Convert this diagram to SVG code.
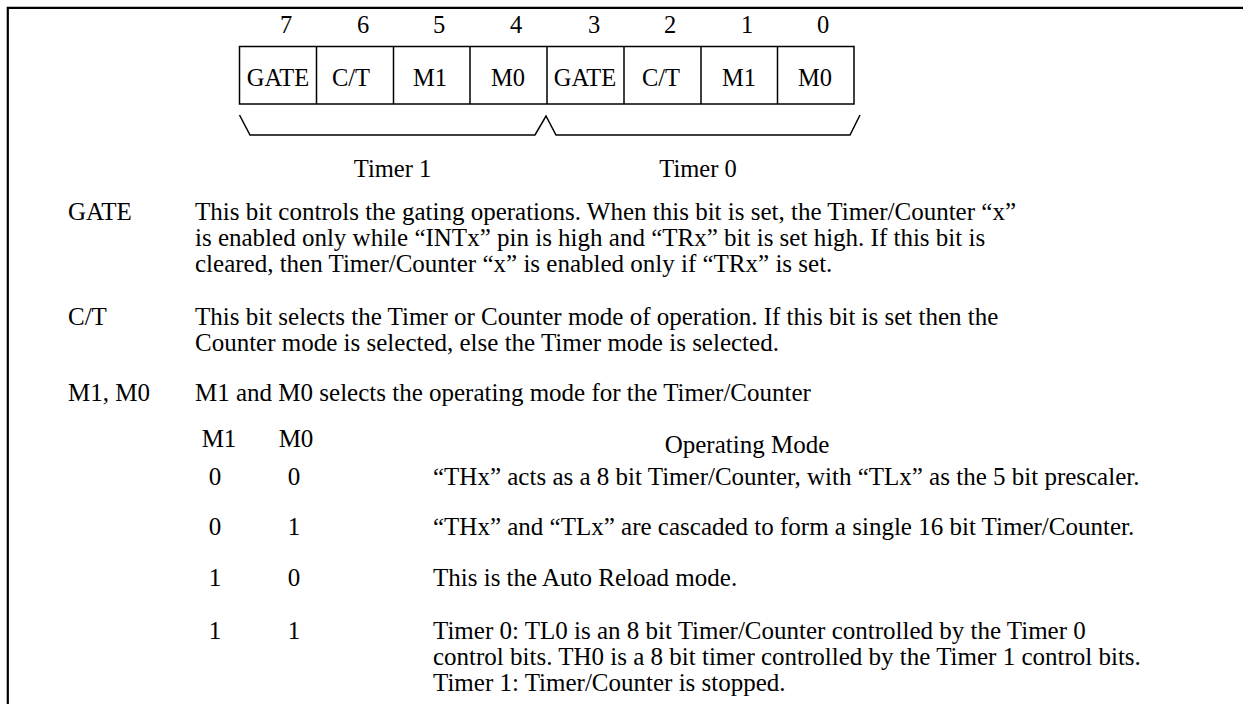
<svg xmlns="http://www.w3.org/2000/svg" width="1243" height="704" viewBox="0 0 1243 704">
<style>
text{font-family:"Liberation Serif","Times New Roman",serif;font-size:25px;fill:#000}
.c{text-anchor:middle}
.r{font-size:24.5px}
.ln{stroke:#000;fill:none}
</style>
<rect x="0" y="0" width="1243" height="704" fill="#fff"/>
<g id="frame"><path class="ln" stroke-width="2.2" d="M7.8,704 V7.8 H1243"/></g>
<g id="bitnums">
<text class="c r" x="286" y="33">7</text><text class="c r" x="363" y="33">6</text><text class="c r" x="439" y="33">5</text><text class="c r" x="516" y="33">4</text>
<text class="c r" x="594" y="33">3</text><text class="c r" x="670" y="33">2</text><text class="c r" x="747" y="33">1</text><text class="c r" x="823" y="33">0</text>
</g>
<g id="register">
<rect class="ln" stroke-width="1.5" x="239.5" y="46.5" width="614.5" height="57.5"/>
<path class="ln" stroke-width="1.5" d="M316.5,46.5V104M393.5,46.5V104M470,46.5V104M547,46.5V104M624,46.5V104M701,46.5V104M777.5,46.5V104"/>
<text class="c r" x="278" y="86">GATE</text><text class="c r" x="351" y="86">C/T</text><text class="c r" x="430" y="86">M1</text><text class="c r" x="508" y="86">M0</text>
<text class="c r" x="585" y="86">GATE</text><text class="c r" x="661" y="86">C/T</text><text class="c r" x="739" y="86">M1</text><text class="c r" x="815" y="86">M0</text>
</g>
<g id="connectors">
<path class="ln" stroke-width="1.5" d="M239.5,115 L250,135 H535 L546,116 L556,135 H850 L860,115"/>
</g>
<g id="timer1"><text class="c r" x="392.5" y="177">Timer 1</text></g>
<g id="timer0"><text class="c r" x="698" y="177">Timer 0</text></g>
<g id="gate">
<text x="68" y="220">GATE</text>
<text x="195" y="220">This bit controls the gating operations. When this bit is set, the Timer/Counter “x”</text>
<text x="195" y="246">is enabled only while “INTx” pin is high and “TRx” bit is set high. If this bit is</text>
<text x="195" y="272">cleared, then Timer/Counter “x” is enabled only if “TRx” is set.</text>
</g>
<g id="ct">
<text x="68" y="325">C/T</text>
<text x="195" y="325">This bit selects the Timer or Counter mode of operation. If this bit is set then the</text>
<text x="195" y="351">Counter mode is selected, else the Timer mode is selected.</text>
</g>
<g id="m1m0">
<text x="68" y="401">M1, M0</text>
<text x="195" y="401">M1 and M0 selects the operating mode for the Timer/Counter</text>
</g>
<g id="table">
<text class="c" x="219" y="447">M1</text><text class="c" x="296" y="447">M0</text>
<text class="c" x="747" y="453">Operating Mode</text>
<text class="c" x="215" y="485">0</text><text class="c" x="294" y="485">0</text>
<text x="433" y="485">“THx” acts as a 8 bit Timer/Counter, with “TLx” as the 5 bit prescaler.</text>
<text class="c" x="215" y="535">0</text><text class="c" x="294" y="535">1</text>
<text x="433" y="535">“THx” and “TLx” are cascaded to form a single 16 bit Timer/Counter.</text>
<text class="c" x="215" y="586">1</text><text class="c" x="294" y="586">0</text>
<text x="433" y="586">This is the Auto Reload mode.</text>
<text class="c" x="215" y="639">1</text><text class="c" x="294" y="639">1</text>
<text x="433" y="639">Timer 0: TL0 is an 8 bit Timer/Counter controlled by the Timer 0</text>
<text x="433" y="665">control bits. TH0 is a 8 bit timer controlled by the Timer 1 control bits.</text>
<text x="433" y="691">Timer 1: Timer/Counter is stopped.</text>
</g>
</svg>
